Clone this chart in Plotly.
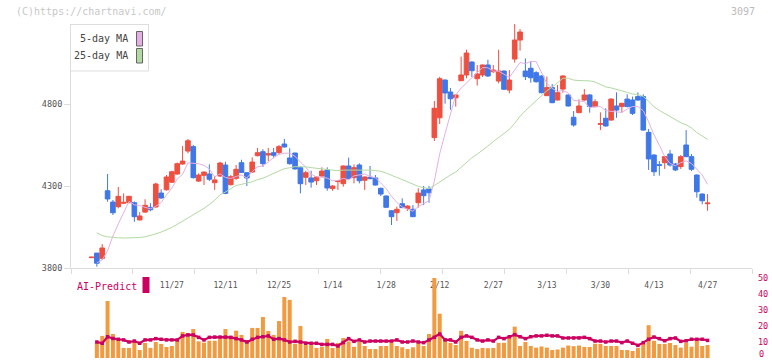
import plotly.graph_objects as go

# ---------------- data ----------------
opens = [3863, 3891, 3859, 4271, 4202, 4174, 4195, 4198, 4198, 4093, 4141, 4170, 4172, 4257, 4277, 4323, 4373, 4434, 4513, 4540,
         4330, 4365, 4373, 4320, 4361, 4428, 4308, 4347, 4442, 4381, 4385, 4485, 4509, 4489, 4503, 4503, 4556, 4471, 4501, 4412,
         4353, 4349, 4332, 4361, 4398, 4284, 4327, 4314, 4422, 4351, 4428, 4335, 4353, 4349, 4286, 4239, 4149, 4137, 4192, 4162,
         4158, 4198, 4276, 4282, 4595, 4716, 4946, 4873, 4838, 4942, 4977, 5056, 4954, 4977, 5038, 4997, 4940, 5001, 4885, 5074,
         5190, 5001, 5018, 4991, 4971, 4851, 4900, 4824, 4891, 4855, 4719, 4747, 4824, 4855, 4784, 4676, 4713, 4702, 4788, 4784,
         4830, 4824, 4845, 4845, 4627, 4489, 4430, 4442, 4495, 4434, 4418, 4550, 4479, 4367, 4251, 4192]
highs = [3868, 3891, 3946, 4373, 4215, 4294, 4255, 4240, 4206, 4141, 4219, 4195, 4320, 4280, 4367, 4393, 4443, 4544, 4587, 4550,
         4377, 4388, 4432, 4361, 4448, 4448, 4367, 4428, 4460, 4385, 4475, 4532, 4524, 4532, 4532, 4550, 4587, 4530, 4503, 4420,
         4393, 4393, 4358, 4414, 4414, 4304, 4337, 4425, 4473, 4432, 4438, 4358, 4422, 4367, 4290, 4242, 4152, 4174, 4225, 4182,
         4184, 4286, 4300, 4300, 4818, 4966, 4950, 4898, 4858, 5089, 5131, 5060, 5038, 5040, 5070, 5038, 5131, 5005, 5007, 5288,
         5257, 5078, 5058, 5000, 4975, 4967, 4922, 4916, 4975, 4858, 4757, 4829, 4891, 4860, 4829, 4749, 4774, 4835, 4871, 4808,
         4859, 4845, 4871, 4859, 4648, 4492, 4452, 4483, 4520, 4440, 4489, 4641, 4495, 4370, 4255, 4251]
lows = [3862, 3808, 3849, 4204, 4123, 4164, 4190, 4196, 4082, 4090, 4136, 4146, 4168, 4222, 4272, 4318, 4368, 4430, 4499, 4345,
        4324, 4306, 4330, 4276, 4355, 4250, 4303, 4337, 4380, 4300, 4380, 4480, 4416, 4452, 4469, 4493, 4535, 4430, 4400, 4255,
        4306, 4290, 4306, 4358, 4271, 4271, 4276, 4296, 4340, 4316, 4316, 4276, 4340, 4303, 4239, 4168, 4062, 4087, 4165, 4148,
        4110, 4168, 4184, 4198, 4574, 4678, 4802, 4765, 4784, 4940, 4957, 4965, 4912, 4965, 4965, 4990, 4926, 4885, 4865, 5052,
        5125, 4946, 4930, 4930, 4865, 4848, 4805, 4822, 4869, 4784, 4662, 4744, 4820, 4747, 4780, 4641, 4662, 4698, 4716, 4747,
        4780, 4733, 4820, 4638, 4398, 4361, 4363, 4404, 4418, 4391, 4404, 4475, 4391, 4229, 4188, 4149]
closes = [3866, 3829, 3922, 4221, 4137, 4237, 4200, 4237, 4113, 4117, 4182, 4155, 4312, 4227, 4355, 4387, 4436, 4452, 4576, 4351,
          4367, 4385, 4341, 4337, 4440, 4255, 4357, 4402, 4383, 4349, 4446, 4503, 4436, 4497, 4487, 4540, 4538, 4436, 4404, 4314,
          4381, 4324, 4355, 4391, 4288, 4300, 4332, 4422, 4345, 4412, 4332, 4355, 4345, 4306, 4251, 4170, 4113, 4158, 4168, 4178,
          4113, 4257, 4241, 4259, 4774, 4954, 4867, 4832, 4855, 4977, 5111, 5003, 4983, 5038, 4971, 5007, 5001, 4890, 4946, 5190,
          5239, 4967, 4960, 4936, 4869, 4900, 4808, 4869, 4971, 4788, 4672, 4788, 4855, 4784, 4814, 4680, 4666, 4830, 4763, 4804,
          4784, 4743, 4824, 4641, 4465, 4387, 4426, 4479, 4428, 4398, 4479, 4479, 4402, 4265, 4210, 4196]

ma5 = [None, 3832, 3849, 3905, 3995, 4069, 4143, 4206, 4185, 4181, 4170, 4161, 4176, 4199, 4246, 4287, 4343, 4371, 4441, 4440,
       4436, 4426, 4404, 4356, 4374, 4352, 4346, 4358, 4367, 4349, 4387, 4417, 4423, 4446, 4474, 4493, 4500, 4500, 4481, 4446,
       4415, 4372, 4356, 4353, 4348, 4332, 4333, 4347, 4337, 4362, 4369, 4373, 4358, 4350, 4318, 4285, 4237, 4200, 4172, 4157,
       4146, 4175, 4191, 4210, 4329, 4497, 4619, 4737, 4856, 4897, 4928, 4956, 4986, 5022, 5021, 5000, 5000, 4981, 4963, 5007,
       5053, 5046, 5060, 5058, 4994, 4926, 4895, 4876, 4883, 4867, 4822, 4818, 4815, 4777, 4783, 4784, 4760, 4755, 4751, 4749,
       4769, 4785, 4784, 4759, 4691, 4612, 4549, 4480, 4437, 4424, 4442, 4453, 4437, 4405, 4367, 4310]
ma25 = [None, 4015, 3998, 3990, 3986, 3984, 3983, 3983, 3983, 3986, 3990, 3998, 4008, 4019, 4032, 4048, 4066, 4085, 4104, 4123,
        4143, 4164, 4187, 4213, 4247, 4263, 4284, 4303, 4310, 4318, 4326, 4339, 4347, 4362, 4377, 4391, 4406, 4411, 4418, 4417,
        4417, 4412, 4408, 4401, 4398, 4396, 4393, 4397, 4397, 4396, 4399, 4399, 4397, 4394, 4390, 4379, 4363, 4352, 4339, 4326,
        4309, 4298, 4290, 4284, 4303, 4326, 4347, 4367, 4385, 4413, 4445, 4472, 4494, 4522, 4544, 4571, 4597, 4619, 4645, 4682,
        4725, 4759, 4791, 4822, 4850, 4881, 4903, 4928, 4957, 4957, 4946, 4943, 4944, 4941, 4934, 4917, 4904, 4898, 4887, 4880,
        4871, 4861, 4858, 4846, 4817, 4783, 4761, 4742, 4722, 4703, 4686, 4673, 4654, 4626, 4603, 4584]
volume = [None, 9.6, 13.8, 35.6, 15.0, 11.3, 6.3, 6.3, 10.0, 5.0, 9.4, 6.3, 10.0, 8.8, 6.9, 7.5, 11.3, 16.3, 15.6, 18.1,
          10.4, 9.6, 10.8, 10.8, 11.9, 18.1, 13.8, 17.1, 14.4, 11.3, 18.8, 18.8, 25.6, 16.9, 14.4, 23.1, 38.1, 36.3, 8.8, 20.0,
          8.1, 8.1, 6.3, 7.0, 11.9, 6.3, 9.4, 12.5, 10.4, 7.0, 10.0, 7.5, 5.6, 5.6, 7.5, 7.5, 9.6, 7.5, 6.7, 5.6,
          6.7, 9.2, 7.5, 15.0, 50.0, 27.7, 12.5, 9.4, 8.1, 17.0, 10.7, 6.4, 5.6, 6.3, 6.1, 6.3, 9.5, 9.5, 13.3, 19.6,
          7.5, 10.0, 7.5, 6.5, 7.2, 6.5, 5.0, 5.3, 6.5, 7.8, 7.4, 7.8, 6.9, 6.9, 8.9, 8.8, 7.5, 7.5, 7.5, 5.0,
          5.0, 4.4, 6.3, 8.8, 20.5, 10.8, 8.8, 8.8, 9.4, 8.1, 6.5, 9.6, 7.1, 10.8, 7.5, 8.1]
ai_predict = [None, 10.0, 9.2, 13.3, 12.2, 11.7, 11.3, 10.0, 10.6, 9.2, 11.3, 11.3, 12.1, 11.7, 11.3, 11.3, 11.3, 13.8, 14.4, 14.4,
              12.9, 11.3, 12.9, 13.1, 13.1, 13.1, 12.9, 12.1, 11.3, 10.0, 11.7, 12.9, 13.3, 13.8, 11.7, 12.1, 11.3, 10.0, 10.4, 10.0,
              9.2, 9.2, 9.2, 8.5, 8.5, 8.5, 7.5, 9.6, 12.1, 10.4, 11.3, 10.0, 10.6, 10.6, 10.6, 10.6, 10.6, 11.3, 10.0, 10.0,
              10.6, 10.0, 9.6, 11.3, 12.9, 15.0, 11.3, 11.3, 10.0, 12.9, 13.8, 12.9, 11.3, 10.6, 11.3, 10.6, 12.9, 12.1, 13.3, 14.6,
              13.3, 12.1, 13.3, 13.8, 13.8, 14.2, 13.8, 13.8, 12.5, 12.5, 12.5, 12.5, 12.9, 12.1, 10.6, 10.6, 10.0, 10.6, 10.6, 9.6,
              10.6, 9.2, 7.9, 9.6, 11.7, 13.1, 12.1, 10.8, 12.1, 12.5, 10.4, 10.8, 11.7, 11.7, 11.7, 11.0]

date_labels = ["11/27", "12/11", "12/25", "1/14", "1/28", "2/12", "2/27", "3/13", "3/30", "4/13", "4/27"]
date_index = [15, 25, 35, 45, 55, 65, 75, 85, 95, 105, 115]
price_ticks = [3800, 4300, 4800]
vol_ticks = [10, 20, 30, 40, 50]
vol_zero_label = "0"

# ---------------- styling ----------------
UP = "#ef4f3f"
DOWN = "#3f77e8"
MA5C = "#e4b0e4"
MA25C = "#b3d9a3"
VOLC = "#f29a40"
AIC = "#cc0060"
GRID = "#dcdcdc"
MONO = "DejaVu Sans Mono"

W, H = 772, 361
L, R, T, B = 71, 20, 24, 3
PW, PH = W - L - R, H - T - B


def px(x):
    return (x - L) / PW


def py(y):
    return (H - B - y) / PH


idx = list(range(len(closes)))

fig = go.Figure()
fig.add_trace(go.Candlestick(
    x=idx, open=opens, high=highs, low=lows, close=closes,
    increasing=dict(line=dict(color=UP, width=1), fillcolor=UP),
    decreasing=dict(line=dict(color=DOWN, width=1), fillcolor=DOWN),
    whiskerwidth=0, xaxis="x", yaxis="y", showlegend=False, hoverinfo="skip"))
fig.add_trace(go.Scatter(x=list(range(len(ma5))), y=ma5, mode="lines",
                         line=dict(color=MA5C, width=1), xaxis="x", yaxis="y",
                         showlegend=False, hoverinfo="skip"))
fig.add_trace(go.Scatter(x=list(range(len(ma25))), y=ma25, mode="lines",
                         line=dict(color=MA25C, width=1), xaxis="x", yaxis="y",
                         showlegend=False, hoverinfo="skip"))
fig.add_trace(go.Bar(x=list(range(len(volume))), y=volume, marker=dict(color=VOLC, line=dict(width=0)),
                     xaxis="x2", yaxis="y2", showlegend=False, hoverinfo="skip"))
fig.add_trace(go.Scatter(x=list(range(len(ai_predict))), y=ai_predict, mode="lines+markers",
                         line=dict(color=AIC, width=2.2),
                         marker=dict(color=AIC, size=3.5, symbol="square"),
                         xaxis="x2", yaxis="y2", showlegend=False, hoverinfo="skip"))

x_lo = (L - 91.5) / 5.357
x_hi = (W - R - 91.5) / 5.357

fig.update_layout(
    width=W, height=H, autosize=False, showlegend=False,
    margin=dict(l=L, r=R, t=T, b=B, pad=0, autoexpand=False),
    paper_bgcolor="white", plot_bgcolor="white",
    bargap=0.25, boxgap=0.14, boxgroupgap=0,
    xaxis=dict(domain=[0, 1], range=[x_lo, x_hi], anchor="y", automargin=False,
               showline=True, linecolor=GRID, linewidth=1, mirror=False,
               showgrid=False, zeroline=False,
               tickmode="array", tickvals=date_index, ticktext=date_labels,
               ticks="", ticklabelstandoff=9,
               tickfont=dict(family=MONO, size=8, color="#555555"),
               minor=dict(tickmode="linear", tick0=x_lo, dtick=(x_hi - x_lo) / 11,
                          ticks="outside", ticklen=5, tickcolor=GRID, showgrid=False),
               rangeslider=dict(visible=False)),
    yaxis=dict(domain=[py(268), 1], range=[3800, 3800 + (268 - T) * 500 / 82], anchor="x",
               automargin=False,
               showline=True, linecolor=GRID, linewidth=1,
               showgrid=False, zeroline=False,
               tickmode="array", tickvals=price_ticks,
               ticks="outside", ticklen=6, tickcolor=GRID,
               tickfont=dict(family=MONO, size=8.5, color="#555555")),
    xaxis2=dict(domain=[0, 1], matches="x", anchor="y2", visible=False, automargin=False,
                rangeslider=dict(visible=False)),
    yaxis2=dict(domain=[0, py(278)], range=[0, 50], anchor="x2", side="right", automargin=False,
                showline=False, showgrid=False, zeroline=False,
                tickmode="array", tickvals=vol_ticks, ticks="",
                ticklabelstandoff=5,
                tickfont=dict(family=MONO, size=8.5, color=AIC)),
)

shapes = [
    dict(type="rect", xref="paper", yref="paper", x0=px(70.5), x1=px(148.5), y0=py(71), y1=py(24.5),
         line=dict(color="#dddddd", width=1), fillcolor="white", layer="above"),
    dict(type="rect", xref="paper", yref="paper", x0=px(136.5), x1=px(142.5), y0=py(46), y1=py(31.5),
         line=dict(color="#666666", width=1), fillcolor=MA5C, layer="above"),
    dict(type="rect", xref="paper", yref="paper", x0=px(136.5), x1=px(142.5), y0=py(63), y1=py(48.5),
         line=dict(color="#666666", width=1), fillcolor=MA25C, layer="above"),
    dict(type="rect", xref="paper", yref="paper", x0=px(142.5), x1=px(149.5), y0=py(293), y1=py(277),
         line=dict(width=0), fillcolor=AIC, layer="above"),
]
fig.update_layout(shapes=shapes)

annotations = [
    dict(text="(C)https://chartnavi.com/", x=px(14), y=py(12), xanchor="left", yanchor="middle",
         font=dict(family=MONO, size=10, color="#c8c8c8")),
    dict(text="3097", x=px(757), y=py(12), xanchor="right", yanchor="middle",
         font=dict(family=MONO, size=10, color="#bbbbbb")),
    dict(text="5-day MA", x=px(130), y=py(39), xanchor="right", yanchor="middle",
         font=dict(family=MONO, size=10, color="#444444")),
    dict(text="25-day MA", x=px(130), y=py(56), xanchor="right", yanchor="middle",
         font=dict(family=MONO, size=10, color="#444444")),
    dict(text="AI-Predict", x=px(75), y=py(286), xanchor="left", yanchor="middle",
         font=dict(family=MONO, size=10, color=AIC)),
    dict(text=vol_zero_label, x=px(757), y=py(354), xanchor="left", yanchor="middle",
         font=dict(family=MONO, size=8.5, color=AIC)),
]
for a in annotations:
    a.update(xref="paper", yref="paper", showarrow=False)
fig.update_layout(annotations=annotations)

fig.write_html("out.html",
               config={"displayModeBar": False, "responsive": False},
               post_script="document.body.style.margin='0';document.body.style.padding='0';")
